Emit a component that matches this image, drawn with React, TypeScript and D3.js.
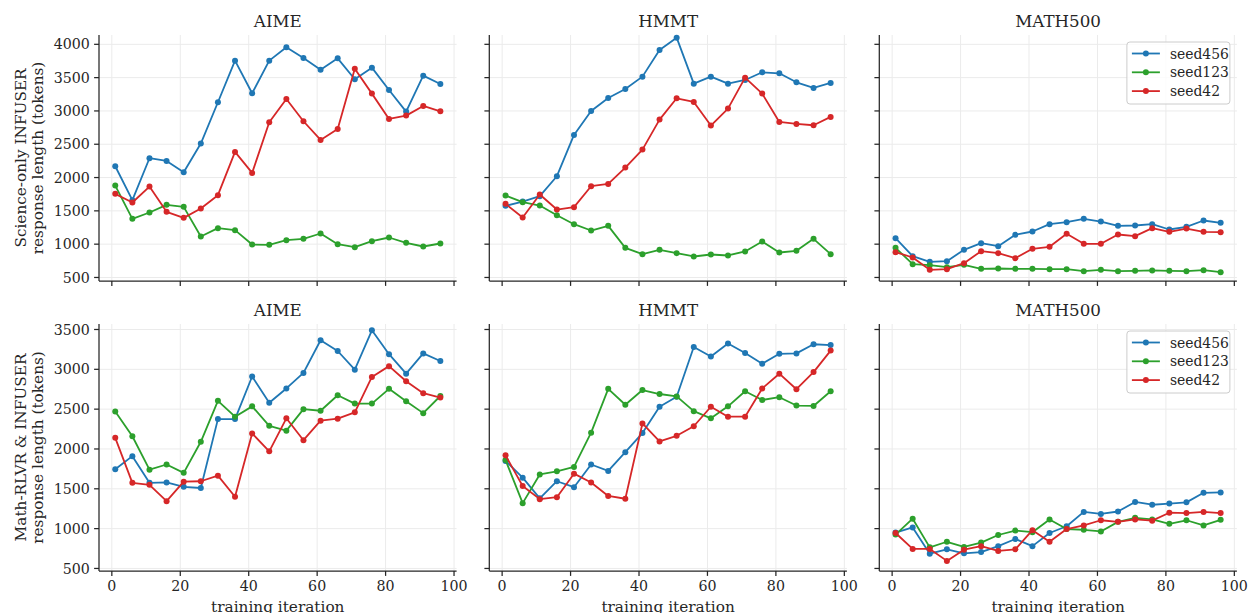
import React from "react";
import * as d3 from "d3";

const iterations = [1, 6, 11, 16, 21, 26, 31, 36, 41, 46, 51, 56, 61, 66, 71, 76, 81, 86, 91, 96];
const benchmarks = ["AIME", "HMMT", "MATH500"];
const seeds = ["seed456", "seed123", "seed42"];
const seedColors = ["#1f77b4", "#2ca02c", "#d62728"];
const rowLabels = [
  ["Science-only INFUSER", "response length (tokens)"],
  ["Math-RLVR & INFUSER", "response length (tokens)"],
];
const xTicks = [0, 20, 40, 60, 80, 100];
const yTicksTop = [500, 1000, 1500, 2000, 2500, 3000, 3500, 4000];
const yTicksBottom = [500, 1000, 1500, 2000, 2500, 3000, 3500];
const xLabel = "training iteration";

// Row 1: Science-only INFUSER
const sciAime456 = [2170, 1660, 2290, 2250, 2080, 2510, 3130, 3755, 3265, 3755, 3955, 3795, 3620, 3790, 3475, 3650, 3315, 2990, 3530, 3405];
const sciAime123 = [1880, 1380, 1475, 1590, 1560, 1115, 1240, 1210, 995, 990, 1060, 1080, 1160, 1000, 955, 1045, 1100, 1020, 965, 1010];
const sciAime42 = [1755, 1625, 1865, 1485, 1395, 1535, 1735, 2385, 2070, 2830, 3180, 2845, 2565, 2730, 3635, 3260, 2880, 2930, 3075, 2995];

const sciHmmt456 = [1575, 1640, 1720, 2020, 2640, 3000, 3195, 3330, 3515, 3915, 4100, 3410, 3515, 3410, 3465, 3580, 3565, 3430, 3345, 3420];
const sciHmmt123 = [1730, 1630, 1580, 1435, 1300, 1205, 1275, 945, 850, 915, 865, 815, 845, 830, 890, 1040, 875, 900, 1080, 850];
const sciHmmt42 = [1605, 1400, 1745, 1520, 1555, 1870, 1905, 2150, 2420, 2870, 3190, 3135, 2780, 3035, 3500, 3260, 2835, 2805, 2785, 2910];

const sciMath456 = [1090, 820, 735, 745, 915, 1015, 970, 1140, 1190, 1300, 1330, 1380, 1340, 1275, 1280, 1300, 1220, 1260, 1355, 1320];
const sciMath123 = [945, 700, 685, 655, 690, 630, 635, 630, 630, 625, 625, 595, 615, 595, 600, 605, 600, 595, 610, 580];
const sciMath42 = [880, 800, 615, 625, 715, 895, 865, 790, 930, 960, 1155, 1005, 1005, 1145, 1120, 1240, 1185, 1235, 1185, 1180];

// Row 2: Math-RLVR & INFUSER
const mathAime456 = [1745, 1910, 1575, 1580, 1525, 1510, 2375, 2375, 2910, 2580, 2760, 2955, 3365, 3230, 2995, 3490, 3190, 2945, 3200, 3105];
const mathAime123 = [2470, 2160, 1740, 1805, 1700, 2090, 2605, 2405, 2535, 2290, 2230, 2500, 2480, 2675, 2570, 2570, 2755, 2600, 2450, 2665];
const mathAime42 = [2140, 1575, 1550, 1345, 1590, 1595, 1665, 1400, 2195, 1970, 2385, 2110, 2355, 2380, 2460, 2905, 3040, 2850, 2700, 2645];

const mathHmmt456 = [1850, 1640, 1380, 1595, 1520, 1805, 1725, 1960, 2200, 2530, 2655, 3280, 3160, 3325, 3205, 3070, 3195, 3200, 3315, 3305];
const mathHmmt123 = [1860, 1320, 1680, 1720, 1775, 2205, 2755, 2555, 2740, 2690, 2660, 2475, 2385, 2535, 2725, 2615, 2650, 2545, 2540, 2725];
const mathHmmt42 = [1920, 1535, 1370, 1395, 1690, 1580, 1410, 1375, 2320, 2095, 2165, 2285, 2530, 2405, 2405, 2760, 2945, 2750, 2965, 3235];

const mathMath456 = [950, 1015, 685, 740, 690, 705, 780, 870, 780, 945, 1030, 1210, 1185, 1215, 1335, 1300, 1315, 1330, 1450, 1455];
const mathMath123 = [925, 1125, 765, 835, 770, 825, 920, 975, 955, 1115, 995, 985, 965, 1085, 1135, 1115, 1060, 1105, 1040, 1110];
const mathMath42 = [945, 745, 745, 595, 735, 780, 720, 740, 980, 835, 995, 1040, 1105, 1085, 1115, 1100, 1200, 1195, 1210, 1195];

const panels = [
  [
    [sciAime456, sciAime123, sciAime42],
    [sciHmmt456, sciHmmt123, sciHmmt42],
    [sciMath456, sciMath123, sciMath42],
  ],
  [
    [mathAime456, mathAime123, mathAime42],
    [mathHmmt456, mathHmmt123, mathHmmt42],
    [mathMath456, mathMath123, mathMath42],
  ],
];

const W = 1251;
const H = 613;
const FONT = "'DejaVu Serif', serif";
const colLeft = [99, 489.3, 879.3];
const panelW = 357.6;
const rowTop = [35, 324];
const rowBottom = [281, 571];
const rowDomain: [number, number][] = [
  [447, 4140],
  [468, 3569],
];
const rowYTicks = [yTicksTop, yTicksBottom];
const textColor = "#262626";
const gridColor = "#ebebeb";
const tickLen = 4.9;

function Panel({ row, col }: { row: number; col: number }) {
  const x = d3.scaleLinear().domain([-3.75, 100.75]).range([colLeft[col], colLeft[col] + panelW]);
  const y = d3.scaleLinear().domain(rowDomain[row]).range([rowBottom[row], rowTop[row]]);
  const line = d3
    .line<number>()
    .x((_, i) => x(iterations[i]))
    .y((d) => y(d));
  const series = panels[row][col];
  const x0 = colLeft[col];
  const x1 = colLeft[col] + panelW;
  const yb = rowBottom[row];
  const yt = rowTop[row];
  const showY = col === 0;
  const showX = row === 1;
  return (
    <g>
      {xTicks.map((t) => (
        <line key={"gx" + t} x1={x(t)} x2={x(t)} y1={yt} y2={yb} stroke={gridColor} strokeWidth={1} />
      ))}
      {rowYTicks[row].map((t) => (
        <line key={"gy" + t} x1={x0} x2={x1} y1={y(t)} y2={y(t)} stroke={gridColor} strokeWidth={1} />
      ))}
      {series.map((vals, si) => (
        <g key={"s" + si}>
          <path d={line(vals) || ""} fill="none" stroke={seedColors[si]} strokeWidth={1.8} strokeLinejoin="round" />
          {vals.map((v, i) => (
            <circle key={i} cx={x(iterations[i])} cy={y(v)} r={3} fill={seedColors[si]} />
          ))}
        </g>
      ))}
      <line x1={x0} x2={x0} y1={yt} y2={yb} stroke={textColor} strokeWidth={1.25} />
      <line x1={x0} x2={x1} y1={yb} y2={yb} stroke={textColor} strokeWidth={1.25} />
      {xTicks.map((t) => (
        <g key={"xt" + t}>
          <line x1={x(t)} x2={x(t)} y1={yb} y2={yb + tickLen} stroke={textColor} strokeWidth={1.25} />
          {showX && (
            <text x={x(t)} y={yb + 19.5} textAnchor="middle" fontFamily={FONT} fontSize={14.2} fill={textColor}>
              {t}
            </text>
          )}
        </g>
      ))}
      {rowYTicks[row].map((t) => (
        <g key={"yt" + t}>
          <line x1={x0 - tickLen} x2={x0} y1={y(t)} y2={y(t)} stroke={textColor} strokeWidth={1.25} />
          {showY && (
            <text x={x0 - 9.2} y={y(t)} dy="0.36em" textAnchor="end" fontFamily={FONT} fontSize={14.2} fill={textColor}>
              {t}
            </text>
          )}
        </g>
      ))}
      <text x={(x0 + x1) / 2} y={yt - 8.5} textAnchor="middle" fontFamily={FONT} fontSize={16.7} fill={textColor}>
        {benchmarks[col]}
      </text>
      {showX && (
        <text x={(x0 + x1) / 2} y={yb + 40.5} textAnchor="middle" fontFamily={FONT} fontSize={15.3} fill={textColor}>
          {xLabel}
        </text>
      )}
      {showY && (
        <text
          transform={`translate(${26},${(yt + yb) / 2}) rotate(-90)`}
          textAnchor="middle"
          fontFamily={FONT}
          fontSize={15.3}
          fill={textColor}
        >
          <tspan x={0} dy={0}>{rowLabels[row][0]}</tspan>
          <tspan x={0} dy={17}>{rowLabels[row][1]}</tspan>
        </text>
      )}
      {col === 2 && <Legend top={yt + 7} right={x1 - 7} />}
    </g>
  );
}

function Legend({ top, right }: { top: number; right: number }) {
  const w = 103;
  const h = 62;
  const left = right - w;
  return (
    <g>
      <rect x={left} y={top} width={w} height={h} rx={3} fill="white" fillOpacity={0.8} stroke="#cccccc" strokeWidth={1} />
      {seeds.map((s, i) => {
        const cy = top + 11.5 + i * 18.8;
        return (
          <g key={s}>
            <line x1={left + 5} x2={left + 33} y1={cy} y2={cy} stroke={seedColors[i]} strokeWidth={1.8} />
            <circle cx={left + 19} cy={cy} r={3} fill={seedColors[i]} />
            <text x={left + 43} y={cy} dy="0.36em" fontFamily={FONT} fontSize={13.9} fill={textColor}>
              {s}
            </text>
          </g>
        );
      })}
    </g>
  );
}

export default function App() {
  return (
    <svg width={W} height={H} style={{ position: "absolute", left: 0, top: 0, background: "white" }}>
      <rect x={0} y={0} width={W} height={H} fill="white" />
      {[0, 1].map((r) => [0, 1, 2].map((c) => <Panel key={r + "-" + c} row={r} col={c} />))}
    </svg>
  );
}
